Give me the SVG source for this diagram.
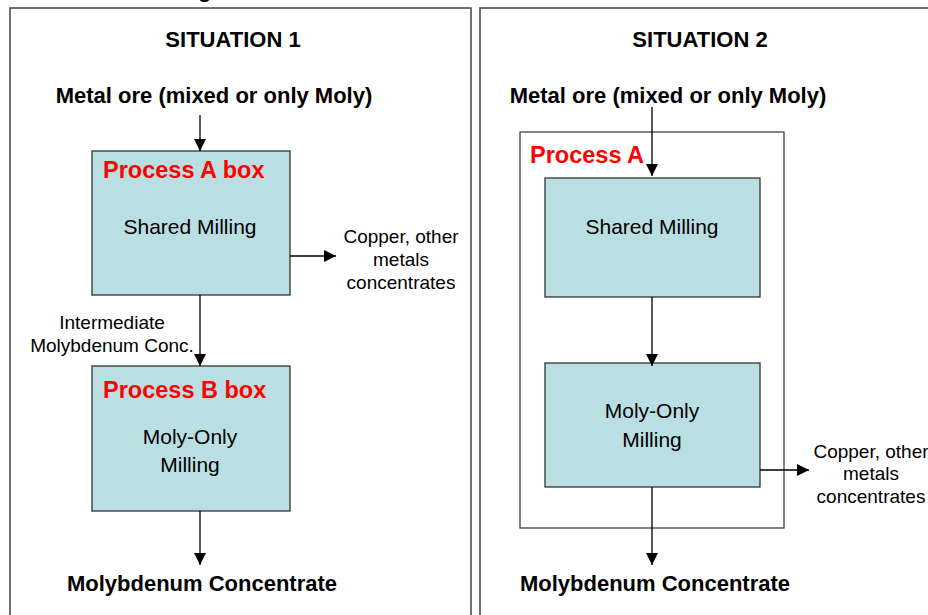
<svg xmlns="http://www.w3.org/2000/svg" width="928" height="615" viewBox="0 0 928 615">
<style>
.frame{fill:none;stroke:#444;stroke-width:1.5}
.box{fill:#badfe2;stroke:#333;stroke-width:1.3}
.t{font-family:"Liberation Sans",Arial,sans-serif;fill:#000}
.b{font-weight:bold;font-size:22px}
.red{font-family:"Liberation Sans",Arial,sans-serif;font-weight:bold;font-size:23.5px;fill:#ff0000}
.n{font-size:21px}
.s{font-size:19px}
.c line{stroke:#000;stroke-width:1.3;marker-end:url(#ah)}
</style>
<defs>
<marker id="ah" markerWidth="12" markerHeight="12" refX="10" refY="5" orient="auto" markerUnits="userSpaceOnUse" viewBox="0 0 10 10">
<path d="M0,0 L10,5 L0,10 z" fill="#000"/>
</marker>
</defs>
<rect width="928" height="615" fill="#fff"/>
<text class="t b" x="198" y="-3">g</text>
<g id="panel1">
<rect class="frame" x="10" y="8" width="461" height="620"/>
<text class="t b" x="233" y="47" text-anchor="middle">SITUATION 1</text>
<text class="t b" x="214" y="103" text-anchor="middle">Metal ore (mixed or only Moly)</text>
</g>
<g id="panel2">
<rect class="frame" x="480" y="8" width="460" height="620"/>
<text class="t b" x="700" y="47" text-anchor="middle">SITUATION 2</text>
<text class="t b" x="668" y="103" text-anchor="middle">Metal ore (mixed or only Moly)</text>
</g>
<g id="boxA1">
<rect class="box" x="92" y="151" width="198" height="144"/>
<text class="red" x="103" y="178">Process A box</text>
<text class="t n" x="190" y="234" text-anchor="middle">Shared Milling</text>
</g>
<g id="boxB1">
<rect class="box" x="92" y="366" width="198" height="145"/>
<text class="red" x="103" y="398">Process B box</text>
<text class="t n" x="190" y="444" text-anchor="middle">Moly-Only</text>
<text class="t n" x="190" y="472" text-anchor="middle">Milling</text>
</g>
<g id="out1">
<text class="t s" x="401" y="243" text-anchor="middle">Copper, other</text>
<text class="t s" x="401" y="266" text-anchor="middle">metals</text>
<text class="t s" x="401" y="289" text-anchor="middle">concentrates</text>
</g>
<g id="inter1">
<text class="t s" x="112" y="329" text-anchor="middle">Intermediate</text>
<text class="t s" x="112" y="352" text-anchor="middle">Molybdenum Conc.</text>
</g>
<g id="result1">
<text class="t b" x="202" y="591" text-anchor="middle">Molybdenum Concentrate</text>
</g>
<g id="processA2">
<rect class="frame" x="520" y="132" width="264" height="396" style="stroke:#333;stroke-width:1.2"/>
<text class="red" x="530" y="163">Process A</text>
</g>
<g id="shared2">
<rect class="box" x="545" y="178" width="215" height="119"/>
<text class="t n" x="652" y="234" text-anchor="middle">Shared Milling</text>
</g>
<g id="moly2">
<rect class="box" x="545" y="363" width="215" height="124"/>
<text class="t n" x="652" y="418" text-anchor="middle">Moly-Only</text>
<text class="t n" x="652" y="447" text-anchor="middle">Milling</text>
</g>
<g id="out2">
<text class="t s" x="871" y="458" text-anchor="middle">Copper, other</text>
<text class="t s" x="871" y="480" text-anchor="middle">metals</text>
<text class="t s" x="871" y="503" text-anchor="middle">concentrates</text>
</g>
<g id="result2">
<text class="t b" x="655" y="591" text-anchor="middle">Molybdenum Concentrate</text>
</g>
<g id="connectors" class="c">
<line x1="200" y1="115" x2="200" y2="151"/>
<line x1="290" y1="256" x2="336" y2="256"/>
<line x1="200" y1="295" x2="200" y2="366"/>
<line x1="200" y1="511" x2="200" y2="565"/>
<line x1="652" y1="107" x2="652" y2="176"/>
<line x1="652" y1="297" x2="652" y2="366"/>
<line x1="760" y1="470" x2="809" y2="470"/>
<line x1="652" y1="487" x2="652" y2="565"/>
</g>
</svg>
